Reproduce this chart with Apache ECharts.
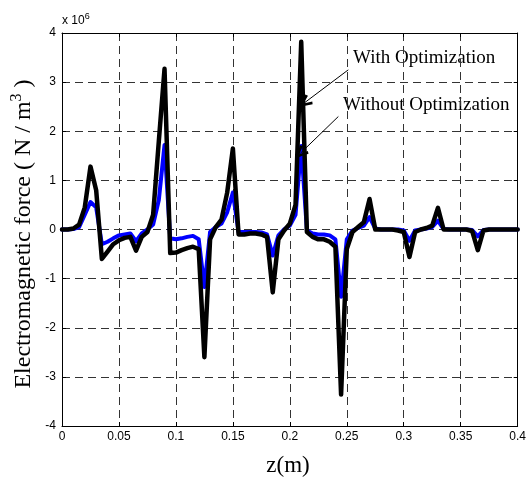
<!DOCTYPE html>
<html>
<head>
<meta charset="utf-8">
<script src="https://cdn.jsdelivr.net/npm/echarts@6/dist/echarts.min.js"></script>
<style>html,body{margin:0;padding:0;background:#fff}#c{width:529px;height:481px}</style>
</head>
<body>
<div id="c"></div>
<script>
// z positions (m)
var zValues = [0,0.005,0.01,0.015,0.02,0.025,0.03,0.035,0.04,0.045,
  0.05,0.055,0.06,0.065,0.07,0.075,0.08,0.085,0.09,0.095,
  0.1,0.105,0.11,0.115,0.12,0.125,0.13,0.135,0.14,0.145,
  0.15,0.155,0.16,0.165,0.17,0.175,0.18,0.185,0.19,0.195,
  0.2,0.205,0.21,0.215,0.22,0.225,0.23,0.235,0.24,0.245,
  0.25,0.255,0.26,0.265,0.27,0.275,0.28,0.285,0.29,0.295,
  0.3,0.305,0.31,0.315,0.32,0.325,0.33,0.335,0.34,0.345,
  0.35,0.355,0.36,0.365,0.37,0.375,0.38,0.385,0.39,0.395,0.4];
// Electromagnetic force, units of 1e6 N/m^3
var withOpt = [0,0,0.02,0.1,0.45,1.28,0.8,-0.6,-0.45,-0.3,
  -0.22,-0.17,-0.15,-0.43,-0.15,-0.05,0.3,1.8,3.27,-0.48,
  -0.47,-0.42,-0.38,-0.35,-0.4,-2.6,-0.2,0.05,0.2,0.75,
  1.65,-0.1,-0.1,-0.08,-0.08,-0.1,-0.15,-1.28,-0.2,-0.02,
  0.12,0.5,3.82,-0.05,-0.15,-0.2,-0.2,-0.25,-0.35,-3.36,
  -0.4,-0.05,0.05,0.15,0.62,0.0,0,0,0,-0.02,
  -0.05,-0.56,-0.05,0,0.03,0.08,0.44,0.0,0,0,
  0,0,-0.03,-0.42,-0.02,0,0,0,0,0,0];
var withoutOpt = [0,0,0.01,0.05,0.3,0.56,0.45,-0.3,-0.25,-0.18,
  -0.12,-0.1,-0.08,-0.24,-0.08,0.0,0.1,0.6,1.72,-0.18,
  -0.2,-0.18,-0.15,-0.13,-0.2,-1.17,-0.05,0.05,0.12,0.35,
  0.75,-0.05,-0.05,-0.05,-0.05,-0.06,-0.1,-0.53,-0.12,0.0,
  0.08,0.3,1.7,-0.02,-0.08,-0.1,-0.1,-0.12,-0.2,-1.37,
  -0.2,-0.02,0.03,0.08,0.25,0.02,0,0,0,0,
  -0.02,-0.23,-0.02,0,0.02,0.05,0.18,0.01,0,0,
  0,0,-0.01,-0.14,-0.01,0,0,0,0,0,0];
var xTicks = ['0','0.05','0.1','0.15','0.2','0.25','0.3','0.35','0.4'];
var yTicks = ['-4','-3','-2','-1','0','1','2','3','4'];

function pairs(ys){ return zValues.map(function(z,i){ return [z, ys[i]]; }); }

var chart = echarts.init(document.getElementById('c'), null, {renderer:'canvas'});
var tickFont = {fontFamily:'Liberation Sans, Arial, sans-serif', fontSize:12, color:'#000'};
var split = {show:true, lineStyle:{color:'#333', width:1, type:[8,5]}};
var chevron = 'path://M0,0 L5.5,11 L3.3,12.2 L0,5 L-3.3,12.2 L-5.5,11 Z';
var option = {
  animation:false,
  backgroundColor:'#fff',
  grid:{left:62, right:9, top:33, bottom:55},
  xAxis:[{
    type:'value', min:0, max:0.4, interval:0.05, position:'bottom',
    axisLine:{show:true, onZero:false, lineStyle:{color:'#000', width:1}},
    axisTick:{show:true, inside:true, length:4, lineStyle:{color:'#000'}},
    axisLabel:Object.assign({margin:5, formatter:function(v){ var i=Math.round(v/0.05); return xTicks[i]; }}, tickFont),
    splitLine:split
  },{
    type:'value', min:0, max:0.4, interval:0.05, position:'top',
    axisLine:{show:true, onZero:false, lineStyle:{color:'#000', width:1}},
    axisTick:{show:true, inside:true, length:4, lineStyle:{color:'#000'}},
    axisLabel:{show:false}, splitLine:{show:false}
  }],
  yAxis:[{
    type:'value', min:-4, max:4, interval:1, position:'left',
    axisLine:{show:true, onZero:false, lineStyle:{color:'#000', width:1}},
    axisTick:{show:true, inside:true, length:4, lineStyle:{color:'#000'}},
    axisLabel:Object.assign({margin:6, formatter:function(v){ return yTicks[Math.round(v)+4]; }}, tickFont),
    splitLine:split
  },{
    type:'value', min:-4, max:4, interval:1, position:'right',
    axisLine:{show:true, onZero:false, lineStyle:{color:'#000', width:1}},
    axisTick:{show:true, inside:true, length:4, lineStyle:{color:'#000'}},
    axisLabel:{show:false}, splitLine:{show:false}
  }],
  series:[{
    name:'Without Optimization', type:'line', data:pairs(withoutOpt), showSymbol:false,
    lineStyle:{color:'#0000ff', width:4, join:'round', cap:'round'}, z:2
  },{
    name:'With Optimization', type:'line', data:pairs(withOpt), showSymbol:false,
    lineStyle:{color:'#000', width:4.5, join:'round', cap:'round'}, z:3,
    markLine:{
      silent:true, symbol:['none',chevron], symbolSize:[12,14],
      label:{show:false},
      lineStyle:{color:'#000', width:1, type:'solid'},
      itemStyle:{color:'#000'},
      data:[
        [{coord:[0.2513,3.25]},{coord:[0.2129,2.58]}],
        [{coord:[0.2426,2.30]},{coord:[0.2092,1.55]}]
      ]
    }
  }],
  graphic:[
    {type:'text', left:62, top:12, style:{rich:{a:{fontFamily:'Liberation Sans, Arial', fontSize:12, fill:'#000'}, s:{fontFamily:'Liberation Sans, Arial', fontSize:9, fill:'#000', verticalAlign:'top', padding:[0,0,8,0]}}, text:'{a|x 10}{s|6}'}},
    {type:'text', x:353, y:49, style:{text:'With Optimization', font:'19px "Liberation Serif", "Times New Roman", serif', fill:'#000'}},
    {type:'text', x:343, y:96, style:{text:'Without Optimization', font:'19px "Liberation Serif", "Times New Roman", serif', fill:'#000'}},
    {type:'text', x:288, y:466, style:{text:'z(m)', font:'23px "Liberation Serif", "Times New Roman", serif', fill:'#000', align:'center', verticalAlign:'middle'}},
    {type:'text', x:24, y:234, rotation:Math.PI/2, style:{
      rich:{a:{fontFamily:'Liberation Serif, Times New Roman, serif', fontSize:24, fill:'#000'},
            s:{fontFamily:'Liberation Serif, Times New Roman, serif', fontSize:16, fill:'#000', padding:[0,0,14,0]}},
      text:'{a|Electromagnetic force ( N / m}{s|3}{a| )}', align:'center', verticalAlign:'middle'}}
  ]
};
chart.setOption(option);
</script>
</body>
</html>
